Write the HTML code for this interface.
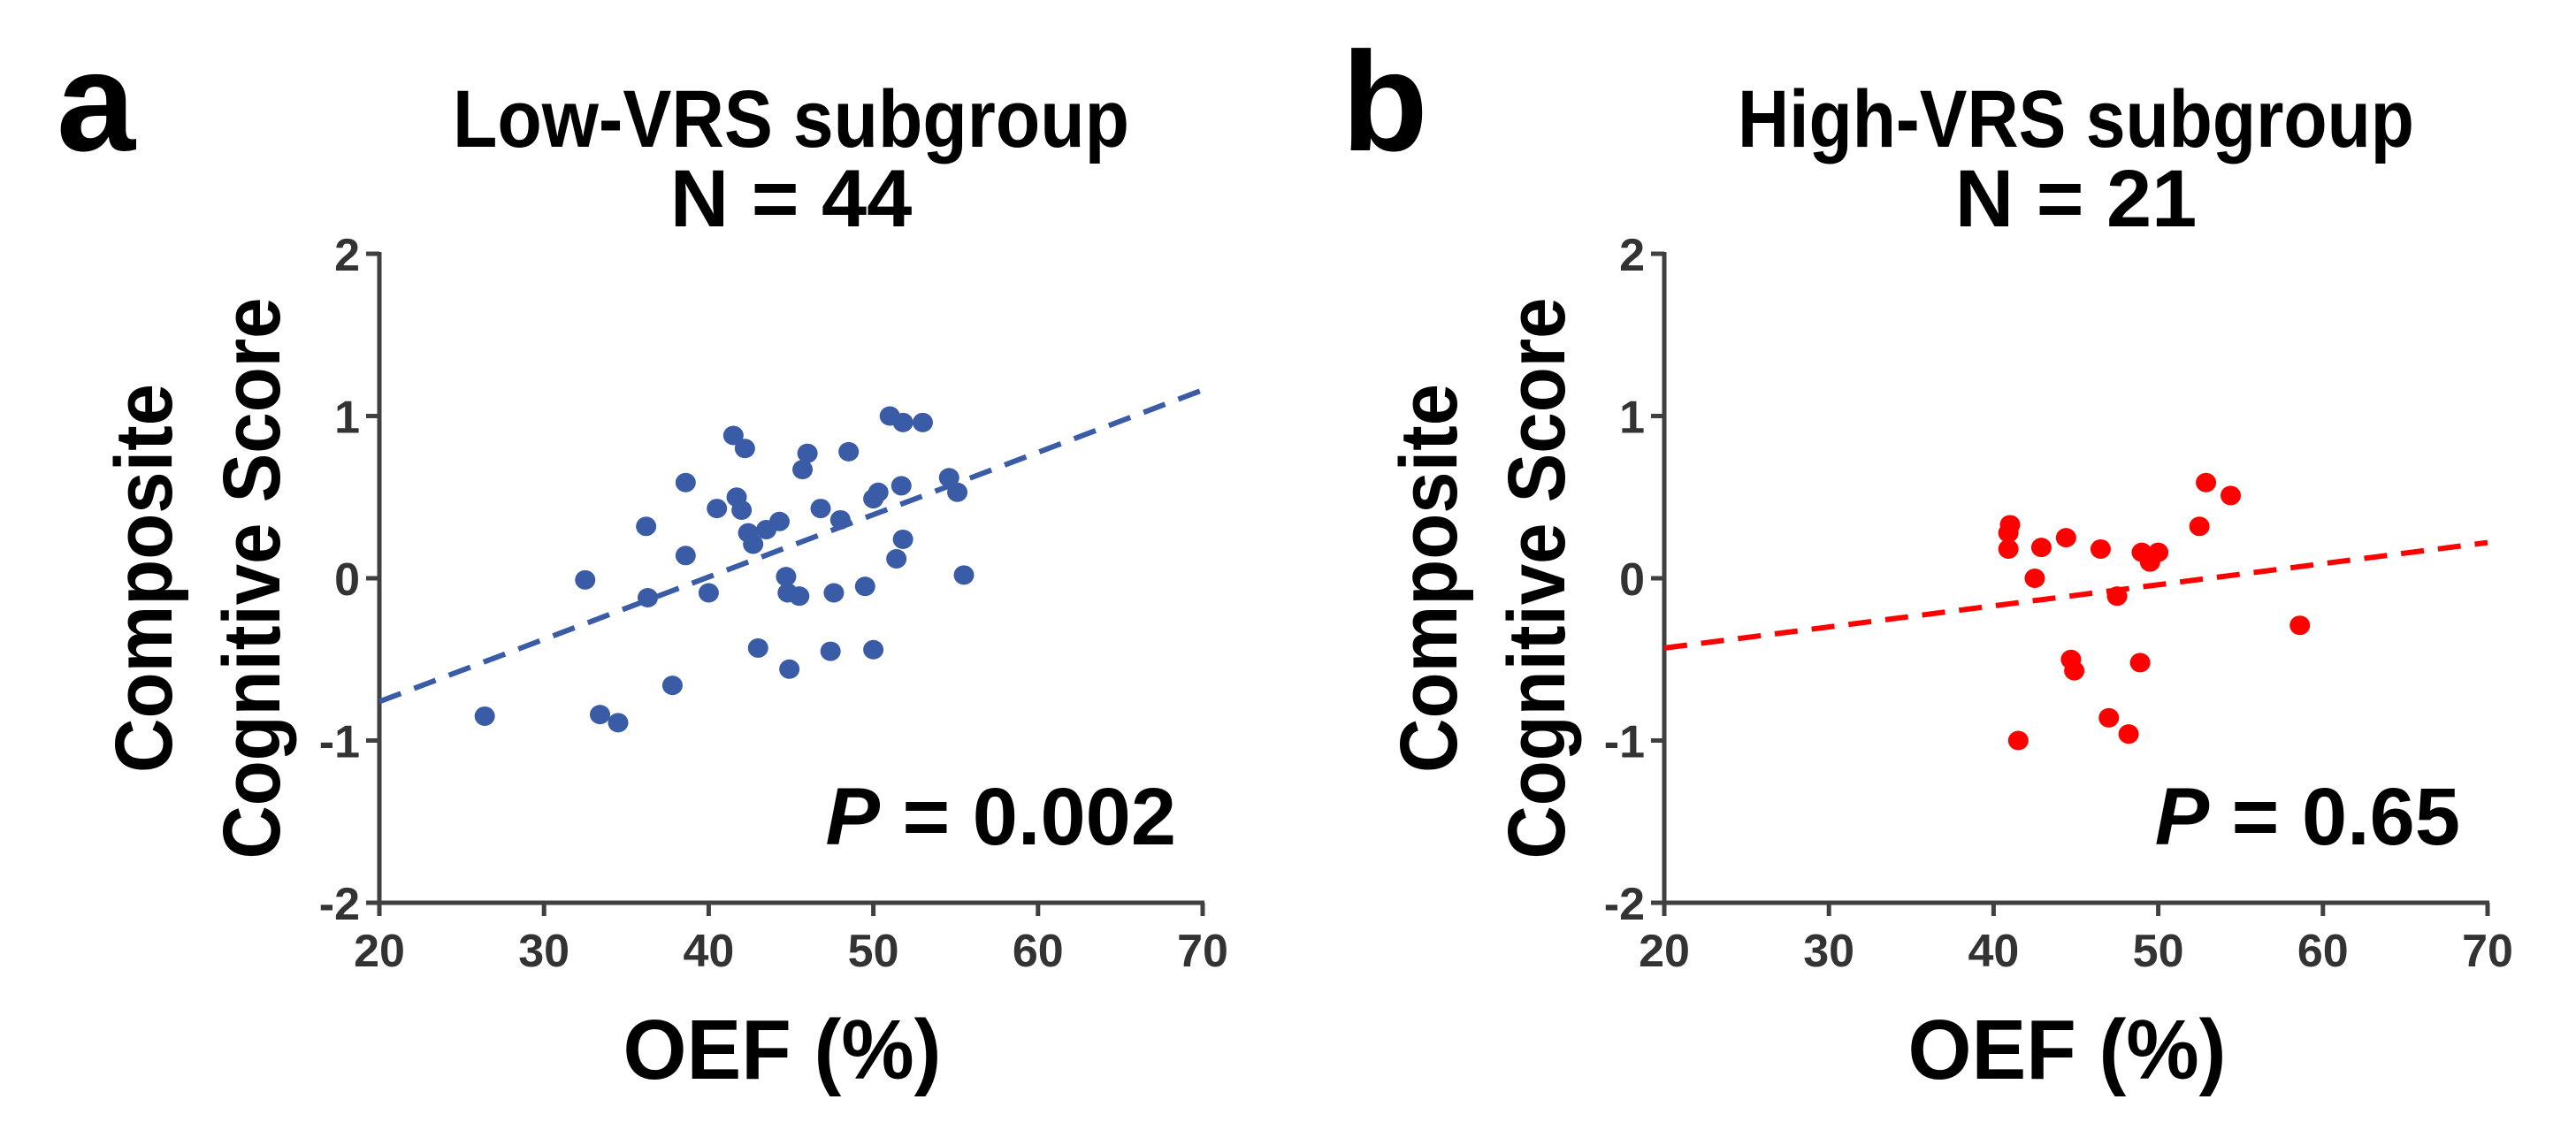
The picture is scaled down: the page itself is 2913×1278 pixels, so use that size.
<!DOCTYPE html>
<html><head><meta charset="utf-8"><style>
html,body{margin:0;padding:0;background:#fff}
svg{display:block}
text{font-family:"Liberation Sans",sans-serif;font-weight:bold}
</style></head><body>
<svg id="fig" width="2913" height="1278" viewBox="0 0 2913 1278" xmlns="http://www.w3.org/2000/svg"></svg>
<script>
const lowX=[26.4,32.5,33.4,34.5,36.2,36.3,37.8,38.6,38.6,40.0,40.5,41.5,41.7,42.2,42.0,42.4,42.7,43.0,43.5,44.3,44.7,44.8,44.9,45.5,45.7,46.0,46.8,47.4,47.6,48.0,48.5,49.5,50.0,50.0,50.3,51.0,51.4,51.7,51.8,51.8,53.0,54.6,55.1,55.5];
const lowY=[-0.85,-0.01,-0.84,-0.89,0.32,-0.12,-0.66,0.59,0.14,-0.09,0.43,0.88,0.5,0.8,0.42,0.28,0.21,-0.43,0.3,0.35,0.01,-0.09,-0.56,-0.11,0.67,0.77,0.43,-0.45,-0.09,0.36,0.78,-0.05,-0.44,0.49,0.53,1.0,0.12,0.57,0.24,0.96,0.96,0.62,0.53,0.02];
const lowFit=[-0.76,1.16];
const highX=[41.0,40.9,40.9,42.9,42.5,44.4,46.5,49.0,49.5,50.0,47.5,52.5,52.9,54.4,58.6,44.7,44.9,48.9,47.0,48.2,41.5];
const highY=[0.33,0.28,0.18,0.19,0.0,0.25,0.18,0.16,0.10,0.16,-0.11,0.32,0.59,0.51,-0.29,-0.5,-0.57,-0.52,-0.86,-0.96,-1.0];
const highFit=[-0.43,0.22];
const xTicks=[20,30,40,50,60,70];
const yTicks=[-2,-1,0,1,2];
const NS="http://www.w3.org/2000/svg";
const svg=document.getElementById('fig');
function mk(tag,attrs,parent,txt){const e=document.createElementNS(NS,tag);for(const k in attrs)e.setAttribute(k,attrs[k]);if(txt!==undefined)e.textContent=txt;(parent||svg).appendChild(e);return e;}
function panel(id,x0,x1,xs,ys,fit,color,letter,title,ntext,ptext,pRight){
  const y0=1021,y1=287;
  const g=mk('g',{});
  
  
  const sx=v=>x0+(v-20)/50*(x1-x0);
  const sy=v=>y0+(v+2)/4*(y1-y0);
  let ax=mk('line',{x1:x0,y1:y0,x2:x1+2,y2:y0,stroke:'#404040','stroke-width':5},g);
  
  let ay=mk('line',{x1:x0,y1:y0+2,x2:x0,y2:y1-2,stroke:'#404040','stroke-width':5},g);
  
  xTicks.forEach(t=>{
    mk('line',{x1:sx(t),y1:y0,x2:sx(t),y2:y0+15,stroke:'#404040','stroke-width':5},g);
    const l=mk('text',{x:sx(t),y:y0+72,'text-anchor':'middle','font-size':52,fill:'#333'},g,String(t));
    
  });
  yTicks.forEach(t=>{
    mk('line',{x1:x0-15,y1:sy(t),x2:x0,y2:sy(t),stroke:'#404040','stroke-width':5},g);
    const l=mk('text',{x:x0-22,y:sy(t)+19,'text-anchor':'end','font-size':52,fill:'#333'},g,String(t));
    
  });
  const fl=mk('line',{x1:sx(20),y1:sy(fit[0]),x2:sx(70),y2:sy(fit[1]),stroke:color,'stroke-width':6,'stroke-dasharray':'26 16'},g);
  
  xs.forEach((v,i)=>{
    const c=mk('ellipse',{cx:sx(v),cy:sy(ys[i]),rx:11.5,ry:11,fill:color},g);
    
    
  });
  const cx=(x0+x1)/2;
  let t=mk('text',{x:x0-365,y:170,'font-size':160,fill:'#000'},g,letter);
  
  t=mk('text',{x:cx,y:166,'text-anchor':'middle','font-size':92,fill:'#000',textLength:765,lengthAdjust:'spacingAndGlyphs'},g,title);
  
  t=mk('text',{x:cx,y:256,'text-anchor':'middle','font-size':92,fill:'#000'},g,ntext);
  
  t=mk('text',{x:cx-10,y:1220,'text-anchor':'middle','font-size':96,fill:'#000',textLength:360,lengthAdjust:'spacingAndGlyphs'},g,'OEF (%)');
  
  t=mk('text',{transform:`translate(${x0-235},654) rotate(-90)`,'text-anchor':'middle','font-size':92,fill:'#000',textLength:440,lengthAdjust:'spacingAndGlyphs'},g,'Composite');
  
  t=mk('text',{transform:`translate(${x0-113},654) rotate(-90)`,'text-anchor':'middle','font-size':92,fill:'#000',textLength:635,lengthAdjust:'spacingAndGlyphs'},g,'Cognitive Score');
  
  t=mk('text',{x:pRight,y:955,'text-anchor':'end','font-size':92,fill:'#000'},g);
  
  mk('tspan',{'font-style':'italic'},t,'P');
  mk('tspan',{},t,' = '+ptext);
}
panel('a',429,1360,lowX,lowY,lowFit,'#3A5BA5','a','Low-VRS subgroup','N = 44','0.002',1330);
panel('b',1882,2813,highX,highY,highFit,'#FF0000','b','High-VRS subgroup','N = 21','0.65',2782);
</script>
</body></html>
